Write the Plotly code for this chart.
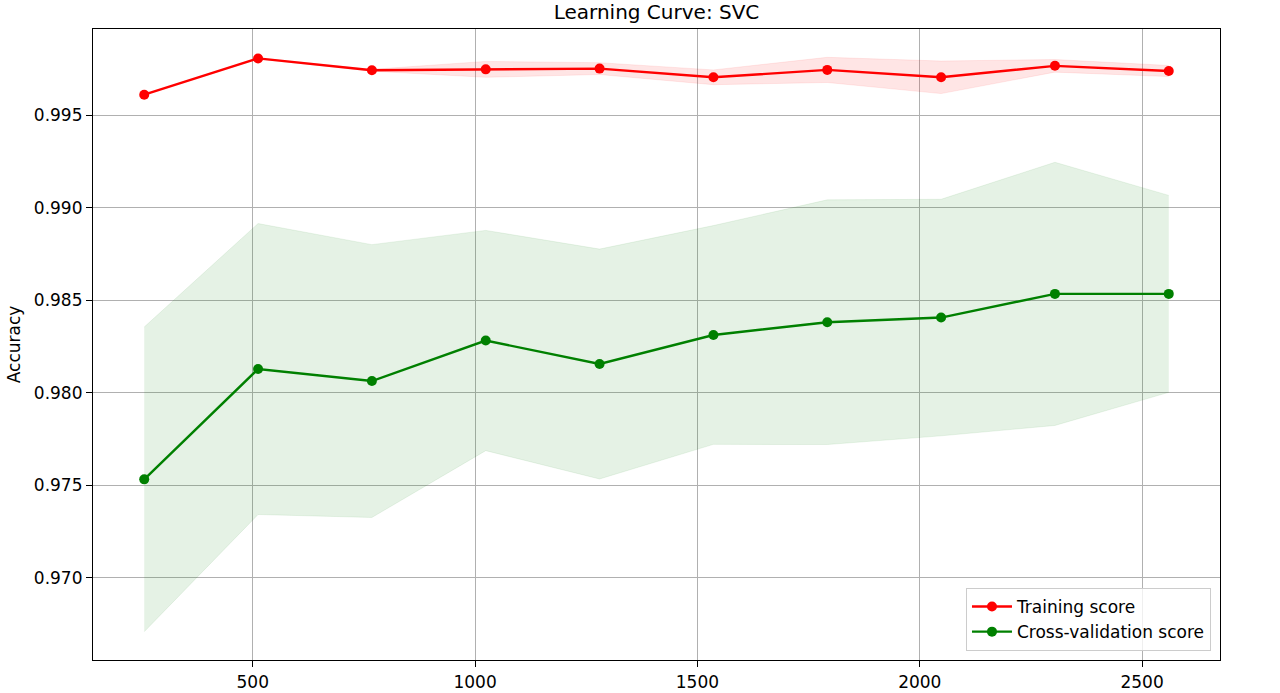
import plotly.graph_objects as go
import numpy as np

train_sizes = [256, 512, 768, 1024, 1280, 1536, 1792, 2048, 2304, 2560]
train_mean = [0.99610, 0.99806, 0.99742, 0.99747, 0.99751, 0.99704, 0.99744, 0.99704, 0.99766, 0.99738]
train_std = [0.00000, 0.00003, 0.00005, 0.00043, 0.00032, 0.00040, 0.00068, 0.00088, 0.00034, 0.00030]
cv_mean = [0.97532, 0.98128, 0.98063, 0.98282, 0.98155, 0.98312, 0.98381, 0.98406, 0.98534, 0.98534]
cv_std = [0.00823, 0.00786, 0.00737, 0.00595, 0.00621, 0.00591, 0.00661, 0.00639, 0.00711, 0.00532]

x_ticks = [500, 1000, 1500, 2000, 2500]
y_ticks = [0.970, 0.975, 0.980, 0.985, 0.990, 0.995]

tm = np.array(train_mean); ts = np.array(train_std)
cm = np.array(cv_mean); cs = np.array(cv_std)

FONT = "DejaVu Sans"
FS = 17
fig = go.Figure()

def band(x, lo, hi, color):
    fig.add_trace(go.Scatter(x=x, y=list(hi), mode="lines", line=dict(width=0.8, color=color),
                             showlegend=False, hoverinfo="skip"))
    fig.add_trace(go.Scatter(x=x, y=list(lo), mode="lines", line=dict(width=0.8, color=color),
                             fill="tonexty", fillcolor=color, showlegend=False, hoverinfo="skip"))

band(train_sizes, tm - ts, tm + ts, "rgba(255,0,0,0.1)")
band(train_sizes, cm - cs, cm + cs, "rgba(0,128,0,0.1)")

fig.add_trace(go.Scatter(x=train_sizes, y=train_mean, mode="lines+markers", name="Training score",
                         line=dict(color="red", width=2.4), marker=dict(color="red", size=10)))
fig.add_trace(go.Scatter(x=train_sizes, y=cv_mean, mode="lines+markers", name="Cross-validation score",
                         line=dict(color="green", width=2.4), marker=dict(color="green", size=10)))

axis_common = dict(showline=True, linecolor="black", linewidth=1.2, mirror=True,
                   showgrid=True, gridcolor="#b0b0b0", gridwidth=1,
                   ticks="outside", ticklen=6, tickwidth=1.2, tickcolor="black",
                   tickfont=dict(family=FONT, size=FS, color="black"), zeroline=False,
                   automargin=False)

fig.update_layout(
    width=1280, height=693,
    margin=dict(l=93, r=60, t=29, b=33),
    paper_bgcolor="white", plot_bgcolor="white",
    font=dict(family=FONT, size=FS, color="black"),
    title=dict(text="Learning Curve: SVC", x=0.5, xref="paper", xanchor="center",
               y=1, yref="paper", yanchor="bottom", pad=dict(b=10),
               font=dict(family=FONT, size=20, color="black")),
    xaxis=dict(range=[140.8, 2675.2], tickvals=x_ticks, **axis_common),
    yaxis=dict(range=[0.96556, 0.99965], tickvals=y_ticks, tickformat=".3f",
               title=dict(text="Accuracy", standoff=8, font=dict(family=FONT, size=FS, color="black")),
               **axis_common),
    legend=dict(x=0.992, y=0.0143, xanchor="right", yanchor="bottom", traceorder="normal",
                itemwidth=40,
                bgcolor="rgba(255,255,255,0.8)", bordercolor="#cccccc", borderwidth=1,
                font=dict(family=FONT, size=FS, color="black")),
    showlegend=True,
)

fig.write_html("out.html", config={"displayModeBar": False},
               post_script="document.body.style.margin='0px';")
